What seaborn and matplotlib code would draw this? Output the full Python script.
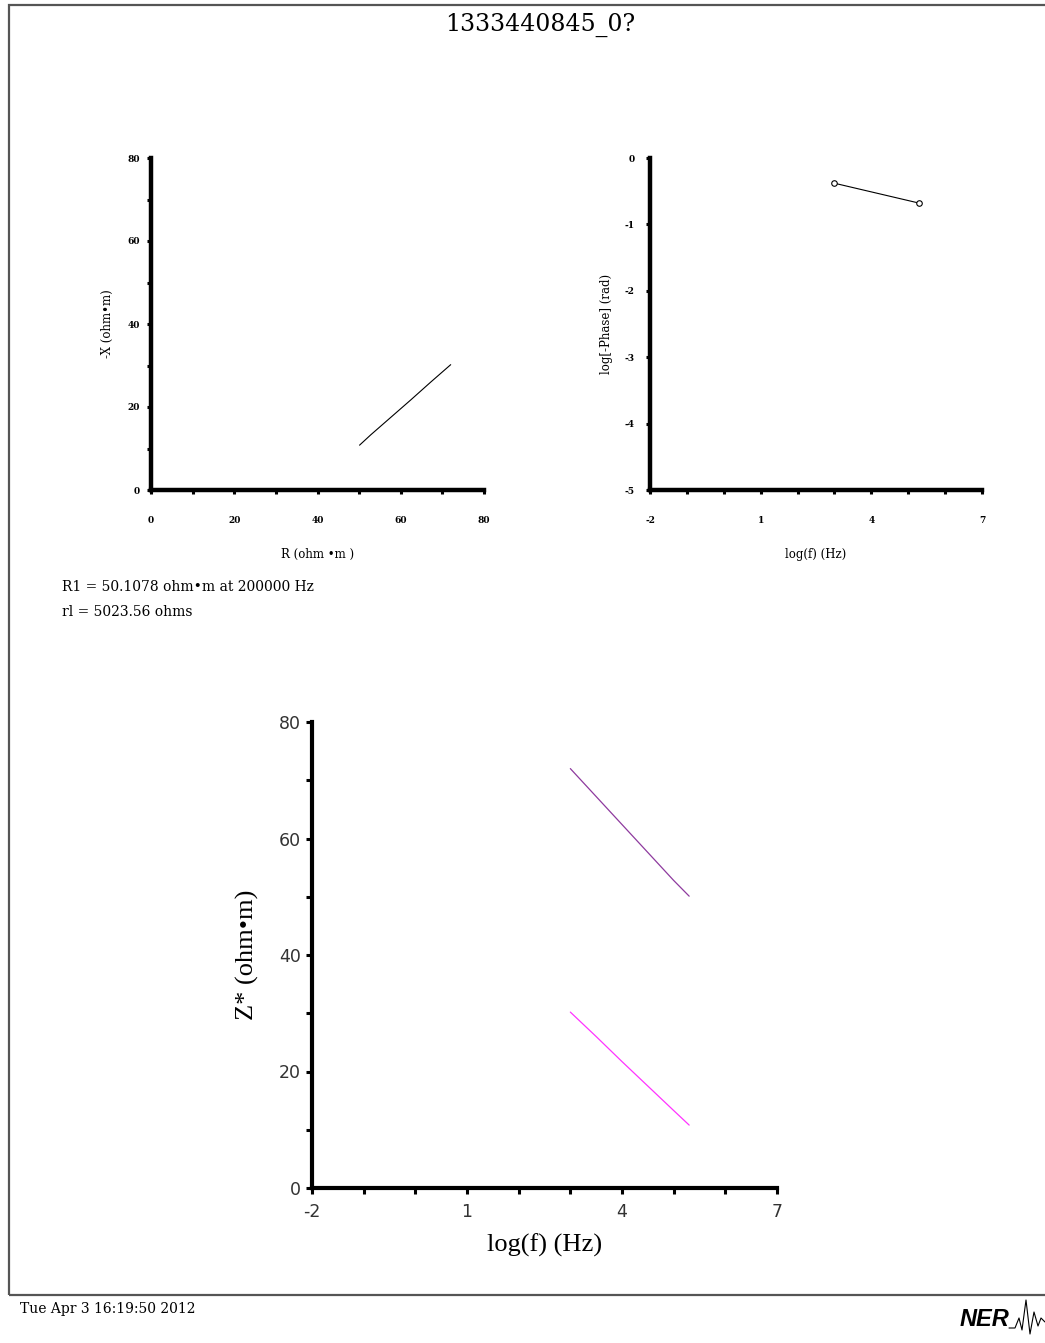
import matplotlib
matplotlib.use("Agg")
import matplotlib.pyplot as plt
from matplotlib.patches import Rectangle
from matplotlib.lines import Line2D
import seaborn as sns
import pandas as pd

# datos
log_freq = [3.0, 3.5, 4.0, 4.5, 5.0, 5.3]
resistance = [72.0, 67.2, 62.4, 57.6, 52.8, 50.1]
reactance = [30.2, 26.0, 21.7, 17.5, 13.3, 10.8]
phase_log_freq = [3.0, 5.3]
log_phase = [-0.38, -0.68]

title = "1333440845_0?"
note_r1 = "R1 = 50.1078 ohm•m at 200000 Hz"
note_rl = "rl = 5023.56 ohms"
stamp = "Tue Apr 3 16:19:50 2012"

df = pd.DataFrame({"logf": log_freq, "R": resistance, "X": reactance})
df_phase = pd.DataFrame({"logf": phase_log_freq, "phase": log_phase})

sns.set_theme(style="ticks")
plt.rcParams["font.family"] = ["DejaVu Serif", "Liberation Serif"]
plt.rcParams["text.color"] = "black"
plt.rcParams["axes.labelcolor"] = "black"

W, H = 1045, 1343
fig = plt.figure(figsize=(W / 100, H / 100), dpi=100)
fig.patch.set_facecolor("white")

# marco de la pagina
fig.add_artist(Rectangle((9 / W, 1 - 1295 / H), 1.0, (1295 - 5) / H,
                         transform=fig.transFigure, fill=False,
                         edgecolor="#555555", linewidth=1.6))


def ax_box(x0, y0, x1, y1):
    return [x0 / W, 1 - y1 / H, (x1 - x0) / W, (y1 - y0) / H]


def style_axes(ax, spine_w, tick_w, tick_len):
    for s in ["top", "right"]:
        ax.spines[s].set_visible(False)
    for s in ["left", "bottom"]:
        ax.spines[s].set_linewidth(spine_w)
        ax.spines[s].set_color("black")
        ax.spines[s].set_capstyle("projecting")
    ax.tick_params(width=tick_w, length=tick_len, color="black")
    ax.set_facecolor("white")


small_font = {"family": "DejaVu Serif", "size": 6.5, "weight": "bold", "color": "black"}
label_font = {"family": "DejaVu Serif", "size": 8.5, "color": "black"}

# --- Nyquist ---
ax1 = fig.add_axes(ax_box(151, 158, 484, 490))
sns.lineplot(data=df, x="R", y="X", sort=False, color="black", lw=0.8, ax=ax1)
ax1.set_xlim(0, 80)
ax1.set_ylim(0, 80)
ax1.set_xticks(range(0, 81, 10))
ax1.set_xticklabels([str(v) if v % 20 == 0 else "" for v in range(0, 81, 10)],
                    fontdict=small_font)
ax1.set_yticks(range(0, 81, 10))
ax1.set_yticklabels([str(v) if v % 20 == 0 else "" for v in range(0, 81, 10)],
                    fontdict=small_font)
style_axes(ax1, 3.2, 2.2, 3)
ax1.tick_params(axis="x", pad=16)
ax1.tick_params(axis="y", pad=5)
ax1.set_xlabel("R (ohm •m )", fontdict=label_font, labelpad=16)
ax1.set_ylabel("-X (ohm•m)", fontdict=label_font, labelpad=10)

# --- fase ---
ax2 = fig.add_axes(ax_box(650, 158, 982, 490))
sns.lineplot(data=df_phase, x="logf", y="phase", color="black", lw=0.8,
             marker="o", markersize=4, markerfacecolor="white",
             markeredgecolor="black", markeredgewidth=0.8, ax=ax2)
ax2.set_xlim(-2, 7)
ax2.set_ylim(-5, 0)
ax2.set_xticks(range(-2, 8))
ax2.set_xticklabels([str(v) if (v + 2) % 3 == 0 else "" for v in range(-2, 8)],
                    fontdict=small_font)
ax2.set_yticks(range(-5, 1))
ax2.set_yticklabels([str(v) for v in range(-5, 1)], fontdict=small_font)
style_axes(ax2, 3.2, 2.2, 3)
ax2.tick_params(axis="x", pad=16)
ax2.tick_params(axis="y", pad=8)
ax2.set_xlabel("log(f) (Hz)", fontdict=label_font, labelpad=16)
ax2.set_ylabel("log[-Phase] (rad)", fontdict=label_font, labelpad=8)

fig.text(62 / W, 1 - 587 / H, note_r1, fontsize=10, va="center", ha="left")
fig.text(62 / W, 1 - 612 / H, note_rl, fontsize=10, va="center", ha="left")

# --- Z* ---
ax3 = fig.add_axes(ax_box(312, 722, 777, 1188))
sns.lineplot(data=df, x="logf", y="R", color="#8e3a9e", lw=0.9, ax=ax3)
sns.lineplot(data=df, x="logf", y="X", color="#ff33ff", lw=0.9, ax=ax3)
ax3.set_xlim(-2, 7)
ax3.set_ylim(0, 80)
tick_font = {"family": "DejaVu Sans", "size": 12.5, "color": "#333333"}
ax3.set_xticks(range(-2, 8))
ax3.set_xticklabels([str(v) if (v + 2) % 3 == 0 else "" for v in range(-2, 8)],
                    fontdict=tick_font)
ax3.set_yticks(range(0, 81, 10))
ax3.set_yticklabels([str(v) if v % 20 == 0 else "" for v in range(0, 81, 10)],
                    fontdict=tick_font)
style_axes(ax3, 3.0, 2.2, 4)
ax3.tick_params(axis="x", pad=7)
ax3.tick_params(axis="y", pad=4)
ax3.set_xlabel("log(f) (Hz)", family="Liberation Serif", fontsize=19,
               labelpad=9, color="black")
ax3.set_ylabel("Z* (ohm•m)", family="Liberation Serif", fontsize=19,
               labelpad=14, color="black")

fig.text(0.517, 1 - 25 / H, title, fontsize=17, ha="center", va="center")
fig.text(20 / W, 1 - 1309 / H, stamp, fontsize=10, ha="left", va="center")

# logo
fig.text(960 / W, 1 - 1320 / H, "NER", family="Liberation Sans", fontsize=17,
         weight="bold", style="italic", ha="left", va="center", color="black")
wx = [1009, 1015, 1019, 1022, 1026, 1030, 1034, 1038, 1041, 1045]
wy = [1328, 1328, 1318, 1330, 1300, 1334, 1312, 1326, 1318, 1322]
fig.add_artist(Line2D([x / W for x in wx], [1 - y / H for y in wy],
                      transform=fig.transFigure, color="black", lw=0.8))

fig.savefig("out.png", dpi=100)
